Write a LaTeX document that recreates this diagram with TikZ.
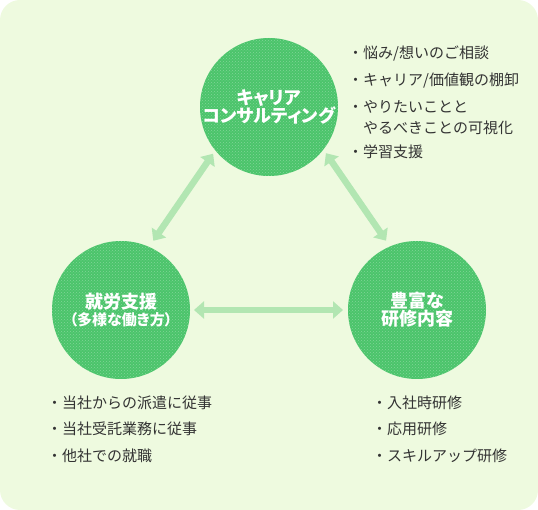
\documentclass[tikz,border=0pt]{standalone}
\usepackage{fontspec}
\usepackage{tikz}
\usetikzlibrary{arrows.meta,patterns}
\usepackage{xcolor}
\newfontfamily\jpfont{Noto Sans CJK JP}
\newfontfamily\jptitle[RawFeature=+palt]{Noto Sans CJK JP}
\definecolor{bgpale}{HTML}{EEFADF}
\definecolor{circgreen}{HTML}{4BC46B}
\definecolor{arrgreen}{HTML}{B2E6B2}
\definecolor{listgray}{HTML}{333333}
\newcommand{\titlefont}{\jptitle\bfseries\fontsize{18}{21}\selectfont}

\begin{document}
\begin{tikzpicture}[
  x=1pt,y=-1pt,
  circ/.style={circle,fill=circgreen,minimum size=138pt,inner sep=0pt,outer sep=0pt,
               text=white,align=center,
               postaction={pattern=crosshatch dots,pattern color=white!30!circgreen}},
  arr/.style={{Triangle[width=17pt,length=10pt]}-{Triangle[width=17pt,length=10pt]},
              line width=6.5pt,draw=arrgreen},
  item/.style={anchor=base west,inner sep=0pt,text=listgray,align=left,
               font=\jpfont\fontsize{15}{21}\selectfont}
]
\useasboundingbox (0,0) rectangle (538,510);
\fill[bgpale,rounded corners=20pt] (0,0) rectangle (538,510);

% three circles
\node[circ] (kc) at (269,107) {\titlefont キャリア\\\titlefont コンサルティング};
\node[circ] (sh) at (121,310) {\titlefont 就労支援\\[2pt]
  \jptitle\bfseries\fontsize{15}{18}\selectfont （多様な働き方）};
\node[circ] (ry) at (417,310) {\titlefont 豊富な\\\titlefont 研修内容};

% connections
\draw[arr,shorten <=4pt,shorten >=7.5pt] (kc.219) -- (sh.66);
\draw[arr,shorten <=4.5pt,shorten >=7pt] (kc.322) -- (ry.113);
\draw[arr,shorten <=4pt,shorten >=5pt] (sh.0) -- (ry.180);

% lists (base of a two-line item is its last line)
\node[item] (k1) at (348,58.5) {・悩み/想いのご相談};
\node[item] (k2) at (348,85.5) {・キャリア/価値観の棚卸};
\node[item] (k3) at (348,133.5) {・やりたいことと\\　やるべきことの可視化};
\node[item] (k4) at (348,157.5) {・学習支援};

\node[item] (s1) at (47,408) {・当社からの派遣に従事};
\node[item] (s2) at (47,434) {・当社受託業務に従事};
\node[item] (s3) at (47,461) {・他社での就職};

\node[item] (r1) at (372,408) {・入社時研修};
\node[item] (r2) at (372,434) {・応用研修};
\node[item] (r3) at (372,461) {・スキルアップ研修};
\end{tikzpicture}
\end{document}
